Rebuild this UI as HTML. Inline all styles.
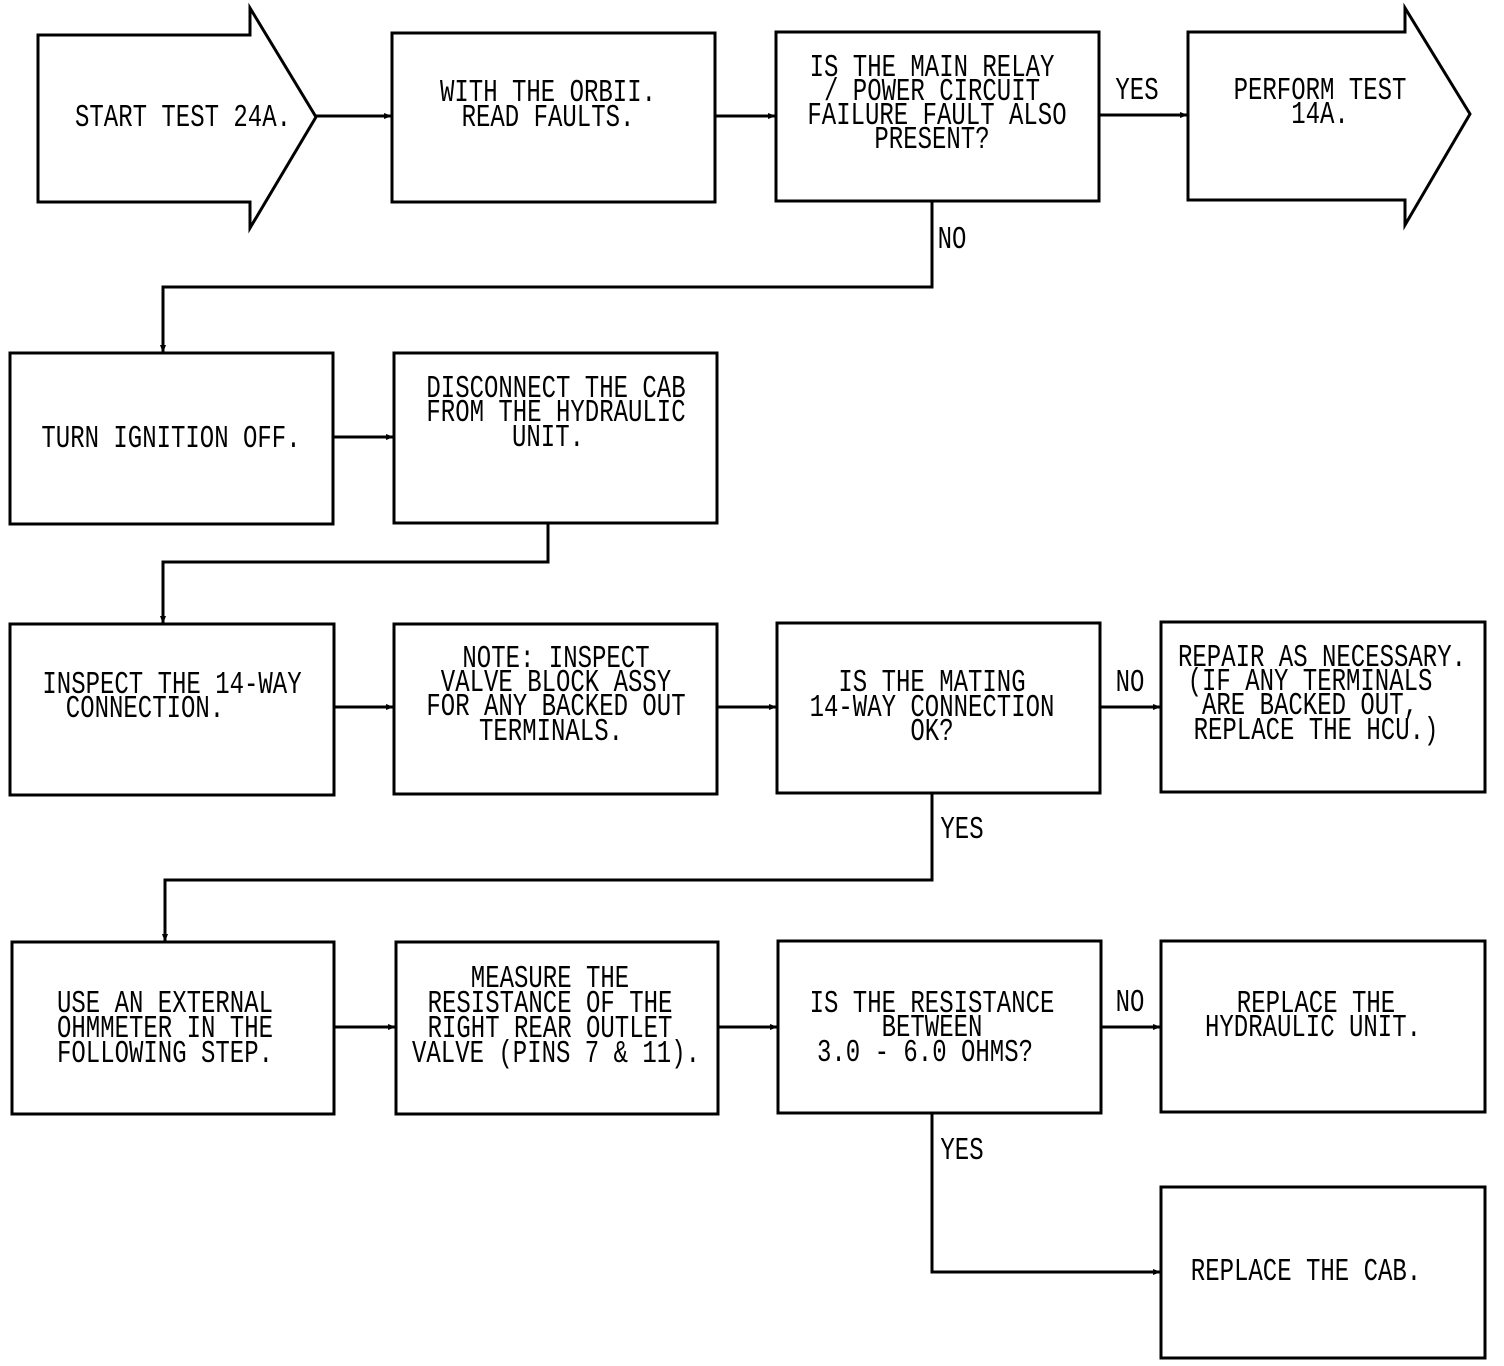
<!DOCTYPE html>
<html><head><style>body{margin:0;background:#fff}svg{display:block}</style></head>
<body>
<svg width="1504" height="1366" viewBox="0 0 1504 1366" xmlns="http://www.w3.org/2000/svg">
<defs><marker id="a" markerWidth="8" markerHeight="8" refX="7" refY="4" orient="auto" markerUnits="userSpaceOnUse"><path d="M0,1 L8,4 L0,7z" fill="#000"/></marker></defs>
<g fill="none" stroke="#000" stroke-width="3">
<path d="M38,35 H250 V8 L316,117 L250,228 V202 H38 Z"/>
<rect x="392" y="33" width="323" height="169"/>
<rect x="776" y="32" width="323" height="169"/>
<path d="M1188,32 H1405 V8 L1470,114 L1405,225 V200 H1188 Z"/>
<rect x="10" y="353" width="323" height="171"/>
<rect x="394" y="353" width="323" height="170"/>
<rect x="10" y="624" width="324" height="171"/>
<rect x="394" y="624" width="323" height="170"/>
<rect x="777" y="623" width="323" height="170"/>
<rect x="1161" y="622" width="324" height="170"/>
<rect x="12" y="942" width="322" height="172"/>
<rect x="396" y="942" width="322" height="172"/>
<rect x="778" y="941" width="323" height="172"/>
<rect x="1161" y="941" width="324" height="171"/>
<rect x="1161" y="1187" width="324" height="171"/>
<g marker-end="url(#a)">
<path d="M316,116 H391"/><path d="M715,116 H775"/><path d="M1099,115 H1187"/>
<path d="M932,201 V287 H163 V352"/>
<path d="M333,437 H393"/>
<path d="M548,523 V562 H163 V623"/>
<path d="M334,707 H393"/><path d="M717,707 H776"/><path d="M1100,707 H1160"/>
<path d="M932,793 V880 H165 V941"/>
<path d="M334,1027 H395"/><path d="M718,1027 H777"/><path d="M1101,1027 H1160"/>
<path d="M932,1113 V1272 H1160"/>
</g></g>
<g font-family="Liberation Mono, monospace" font-size="24" text-anchor="middle" fill="#000">
<g transform="translate(183,126) scale(1,1.3)"><text>START TEST 24A.</text></g>
<g transform="translate(548,101) scale(1,1.3)"><text>WITH THE ORBII.</text></g>
<g transform="translate(548,126) scale(1,1.3)"><text>READ FAULTS.</text></g>
<g transform="translate(932,76) scale(1,1.3)"><text>IS THE MAIN RELAY</text></g>
<g transform="translate(932,100) scale(1,1.3)"><text>/ POWER CIRCUIT</text></g>
<g transform="translate(937,124) scale(1,1.3)"><text>FAILURE FAULT ALSO</text></g>
<g transform="translate(932,148) scale(1,1.3)"><text>PRESENT?</text></g>
<g transform="translate(1320,99) scale(1,1.3)"><text>PERFORM TEST</text></g>
<g transform="translate(1320,123) scale(1,1.3)"><text>14A.</text></g>
<g transform="translate(1137,99) scale(1,1.3)"><text>YES</text></g>
<g transform="translate(952,248) scale(1,1.3)"><text>NO</text></g>
<g transform="translate(171,447) scale(1,1.3)"><text>TURN IGNITION OFF.</text></g>
<g transform="translate(556,397) scale(1,1.3)"><text>DISCONNECT THE CAB</text></g>
<g transform="translate(556,421) scale(1,1.3)"><text>FROM THE HYDRAULIC</text></g>
<g transform="translate(548,446) scale(1,1.3)"><text>UNIT.</text></g>
<g transform="translate(172,693) scale(1,1.3)"><text>INSPECT THE 14-WAY</text></g>
<g transform="translate(145,717) scale(1,1.3)"><text>CONNECTION.</text></g>
<g transform="translate(556,667) scale(1,1.3)"><text>NOTE:  INSPECT</text></g>
<g transform="translate(556,691) scale(1,1.3)"><text>VALVE BLOCK ASSY</text></g>
<g transform="translate(556,715) scale(1,1.3)"><text>FOR ANY BACKED OUT</text></g>
<g transform="translate(551,740) scale(1,1.3)"><text>TERMINALS.</text></g>
<g transform="translate(932,691) scale(1,1.3)"><text>IS THE MATING</text></g>
<g transform="translate(932,716) scale(1,1.3)"><text>14-WAY CONNECTION</text></g>
<g transform="translate(932,740) scale(1,1.3)"><text>OK?</text></g>
<g transform="translate(1130,691) scale(1,1.3)"><text>NO</text></g>
<g transform="translate(1322,666) scale(1,1.3)"><text>REPAIR AS NECESSARY.</text></g>
<g transform="translate(1310,690) scale(1,1.3)"><text>(IF ANY TERMINALS</text></g>
<g transform="translate(1310,714) scale(1,1.3)"><text>ARE BACKED OUT,</text></g>
<g transform="translate(1316,739) scale(1,1.3)"><text>REPLACE THE HCU.)</text></g>
<g transform="translate(962,838) scale(1,1.3)"><text>YES</text></g>
<g transform="translate(165,1012) scale(1,1.3)"><text>USE AN EXTERNAL</text></g>
<g transform="translate(165,1037) scale(1,1.3)"><text>OHMMETER IN THE</text></g>
<g transform="translate(165,1062) scale(1,1.3)"><text>FOLLOWING STEP.</text></g>
<g transform="translate(550,987) scale(1,1.3)"><text>MEASURE THE</text></g>
<g transform="translate(550,1012) scale(1,1.3)"><text>RESISTANCE OF THE</text></g>
<g transform="translate(550,1037) scale(1,1.3)"><text>RIGHT REAR OUTLET</text></g>
<g transform="translate(556,1062) scale(1,1.3)"><text>VALVE (PINS 7 &amp; 11).</text></g>
<g transform="translate(932,1012) scale(1,1.3)"><text>IS THE RESISTANCE</text></g>
<g transform="translate(932,1036) scale(1,1.3)"><text>BETWEEN</text></g>
<g transform="translate(925,1061) scale(1,1.3)"><text>3.0 - 6.0 OHMS?</text></g>
<g transform="translate(1130,1011) scale(1,1.3)"><text>NO</text></g>
<g transform="translate(1316,1012) scale(1,1.3)"><text>REPLACE THE</text></g>
<g transform="translate(1313,1036) scale(1,1.3)"><text>HYDRAULIC UNIT.</text></g>
<g transform="translate(962,1159) scale(1,1.3)"><text>YES</text></g>
<g transform="translate(1306,1280) scale(1,1.3)"><text>REPLACE THE CAB.</text></g>
</g>
</svg>
</body></html>
